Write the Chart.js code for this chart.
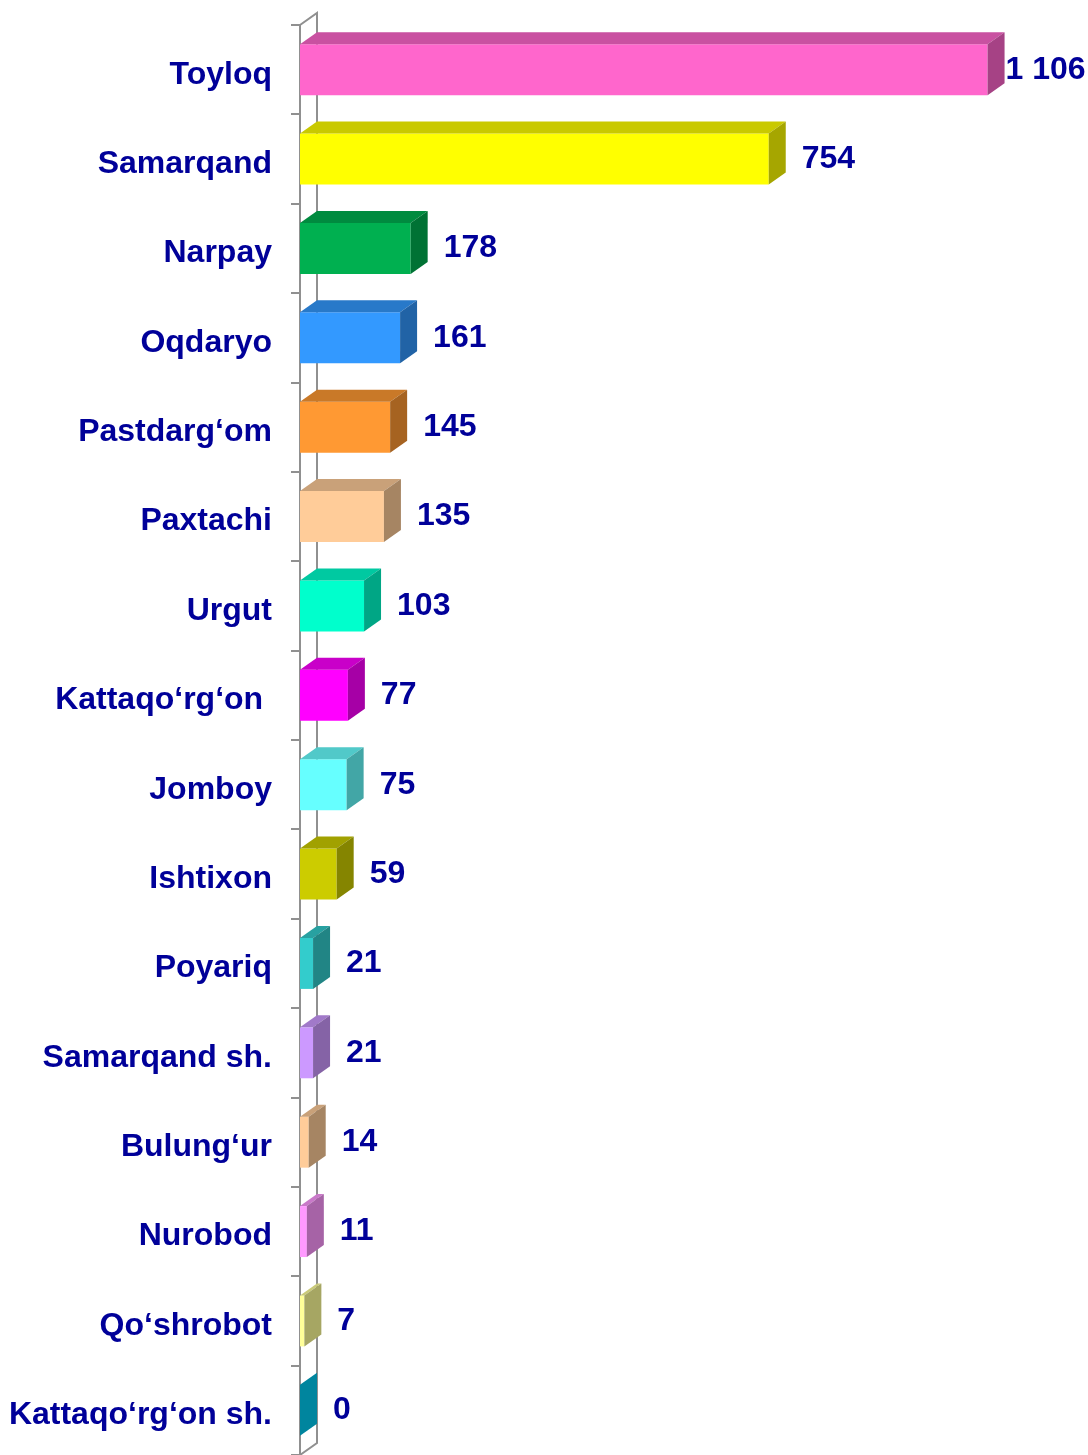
<!DOCTYPE html>
<html>
<head>
<meta charset="utf-8">
<script src="https://cdn.jsdelivr.net/npm/chart.js@4"></script>
<style>
html, body { margin: 0; padding: 0; background: #ffffff; overflow: hidden; }
#wrap { width: 1088px; height: 1455px; position: relative; }
</style>
</head>
<body>
<div id="wrap"><canvas id="c"></canvas></div>
<script>
const categories = ["Toyloq", "Samarqand", "Narpay", "Oqdaryo", "Pastdarg‘om", "Paxtachi", "Urgut", "Kattaqo‘rg‘on ", "Jomboy", "Ishtixon", "Poyariq", "Samarqand sh.", "Bulung‘ur", "Nurobod", "Qo‘shrobot", "Kattaqo‘rg‘on sh."];
const values = [1106, 754, 178, 161, 145, 135, 103, 77, 75, 59, 21, 21, 14, 11, 7, 0];
const valueLabels = ["1 106", "754", "178", "161", "145", "135", "103", "77", "75", "59", "21", "21", "14", "11", "7", "0"];
const barColors = ["#FF66CC", "#FFFF00", "#00B050", "#3399FF", "#FF9933", "#FFCC99", "#00FFCC", "#FF00FF", "#66FFFF", "#CCCC00", "#33CCCC", "#CC99FF", "#FFCC99", "#FF99FF", "#FFFF99", "#00CCF3"];

const FONT = '"Liberation Sans", Arial, sans-serif';
const TEXT_COLOR = '#000099';
const AXIS_COLOR = '#909090';
const DX = 17, DY = 12;

function shade(hex, f) {
  const n = parseInt(hex.slice(1), 16);
  const r = Math.round(((n >> 16) & 255) * f);
  const g = Math.round(((n >> 8) & 255) * f);
  const b = Math.round((n & 255) * f);
  return 'rgb(' + r + ',' + g + ',' + b + ')';
}

const threeD = {
  id: 'threeD',
  beforeDatasetsDraw(chart) {
    const ctx = chart.ctx;
    const a = chart.chartArea;
    ctx.save();
    ctx.strokeStyle = AXIS_COLOR;
    ctx.lineWidth = 2;
    ctx.beginPath();
    ctx.moveTo(a.left, a.top);
    ctx.lineTo(a.left + DX, a.top - DY);
    ctx.lineTo(a.left + DX, a.bottom - DY);
    ctx.lineTo(a.left, a.bottom);
    ctx.stroke();
    ctx.restore();
  },
  afterDatasetsDraw(chart) {
    const ctx = chart.ctx;
    const meta = chart.getDatasetMeta(0);
    ctx.save();
    ctx.font = 'bold 32px ' + FONT;
    meta.data.forEach((el, i) => {
      const p = el.getProps(['x', 'y', 'base', 'height'], true);
      const left = p.base, right = p.x;
      const top = p.y - p.height / 2, bottom = p.y + p.height / 2;
      const col = barColors[i];
      ctx.fillStyle = shade(col, 0.79);
      ctx.beginPath();
      ctx.moveTo(left, top);
      ctx.lineTo(left + DX, top - DY);
      ctx.lineTo(right + DX, top - DY);
      ctx.lineTo(right, top);
      ctx.closePath();
      ctx.fill();
      ctx.fillStyle = shade(col, 0.65);
      ctx.beginPath();
      ctx.moveTo(right, top);
      ctx.lineTo(right + DX, top - DY);
      ctx.lineTo(right + DX, bottom - DY);
      ctx.lineTo(right, bottom);
      ctx.closePath();
      ctx.fill();
      const txt = valueLabels[i];
      const w = ctx.measureText(txt).width;
      let lx = right + DX + 16;
      if (lx + w > chart.width - 4) lx = Math.max(right + DX + 1, chart.width - 4 - w);
      ctx.fillStyle = TEXT_COLOR;
      ctx.textAlign = 'left';
      ctx.textBaseline = 'middle';
      ctx.fillText(txt, lx, p.y);
    });
    ctx.restore();
  }
};

new Chart(document.getElementById('c'), {
  type: 'bar',
  data: {
    labels: categories,
    datasets: [{
      data: values,
      backgroundColor: barColors,
      borderWidth: 0,
      barPercentage: 0.57,
      categoryPercentage: 1
    }]
  },
  options: {
    indexAxis: 'y',
    responsive: true,
    maintainAspectRatio: false,
    animation: false,
    layout: { padding: { top: 25, right: 42, bottom: 0, left: 0 } },
    plugins: { legend: { display: false }, tooltip: { enabled: false } },
    scales: {
      x: { display: false, min: 0, max: 1200 },
      y: {
        afterFit(scale) { scale.width = 300; scale.paddingTop = 0; scale.paddingBottom = 0; },
        grid: { drawOnChartArea: false, color: AXIS_COLOR, lineWidth: 2, tickLength: 9, offset: true },
        border: { display: true, color: AXIS_COLOR, width: 2 },
        ticks: { color: TEXT_COLOR, padding: 19, labelOffset: 5, font: { family: FONT, size: 32, weight: 'bold' } }
      }
    }
  },
  plugins: [threeD]
});
</script>
</body>
</html>
